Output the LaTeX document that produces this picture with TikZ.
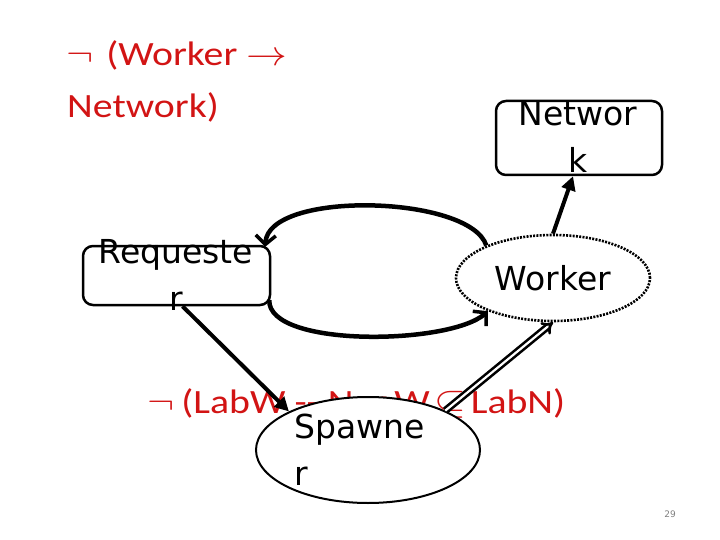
\documentclass[tikz,border=0pt]{standalone}
\usepackage{fontspec}
\setmainfont{DejaVu Sans}
\newfontfamily\redfont{Carlito}
\usetikzlibrary{arrows.meta,shapes.geometric}
\definecolor{slidered}{RGB}{210,20,20}
\newcommand{\symb}[1]{\scalebox{1.4}{$#1$}}
\begin{document}
\begin{tikzpicture}[x=1pt,y=-1pt,
  box/.style={draw, line width=2.5pt, rounded corners=10pt, inner sep=0pt},
  bigtxt/.style={font=\fontsize{33}{47}\selectfont},
  redtxt/.style={text=slidered, font=\redfont\fontsize{34}{34}\selectfont, inner sep=0pt, xscale=1.17},
  conn/.style={line width=4pt},
  curv/.style={line width=4.5pt, -{Straight Barb[length=9pt,width=20pt,line width=3.5pt]}},
  filltip/.style={-{Triangle[length=14pt,width=14pt]}}
]
\useasboundingbox (0,0) rectangle (720,540);
% red texts
\node[redtxt, anchor=base west] (t1) at (66,66) {\symb{\neg}\hspace{11pt}(Worker\hspace{8pt}\symb{\rightarrow}};
\node[redtxt, anchor=base west] (t2) at (67,118) {Network)};
\node[redtxt, anchor=base west] (t3) at (147,413) {\symb{\neg}\hspace{6pt}(LabW -- NeoW\hspace{4pt}\symb{\subseteq}\hspace{4pt}LabN)};
% nodes
\node[box, minimum width=166pt, minimum height=74pt] (net) at (579,138) {};
\node[bigtxt, align=center] at (578,137) {Networ\\k};
\node[box, minimum width=187pt, minimum height=59pt] (req) at (176.5,275.5) {};
\node[bigtxt, align=center] at (176,275) {Requeste\\r};
\node[ellipse, draw, line width=2.6pt, dash pattern=on 2pt off 1.3pt, minimum width=194pt, minimum height=86pt, inner sep=0pt] (work) at (553,278) {};
\node[bigtxt] at (553,278) {Worker};
\node[ellipse, draw, fill=white, line width=2pt, minimum width=224pt, minimum height=106pt, inner sep=0pt] (spw) at (368,450) {};
\node[bigtxt, align=left] at (360,450) {Spawne\\r};
% connectors
\draw[conn, filltip] (work.north) -- ([xshift=-6pt]net.south);
\draw[curv] (work.154) .. controls (470,195) and (268,190) .. ([xshift=-6pt,yshift=-2pt]req.north east);
\draw[curv] ([xshift=-2pt,yshift=6pt]req.south east) .. controls (268,348) and (450,345) .. (work.207);
\draw[conn, filltip] ([xshift=6pt]req.south) -- (spw.154);
\draw[line width=2.6pt, double, double distance=2.2pt, -{Implies[length=11pt]}] (spw.27) -- (work.south);
\node[text=gray, font=\fontsize{9}{9}\selectfont] (pg) at (670,514) {29};
\end{tikzpicture}
\end{document}
